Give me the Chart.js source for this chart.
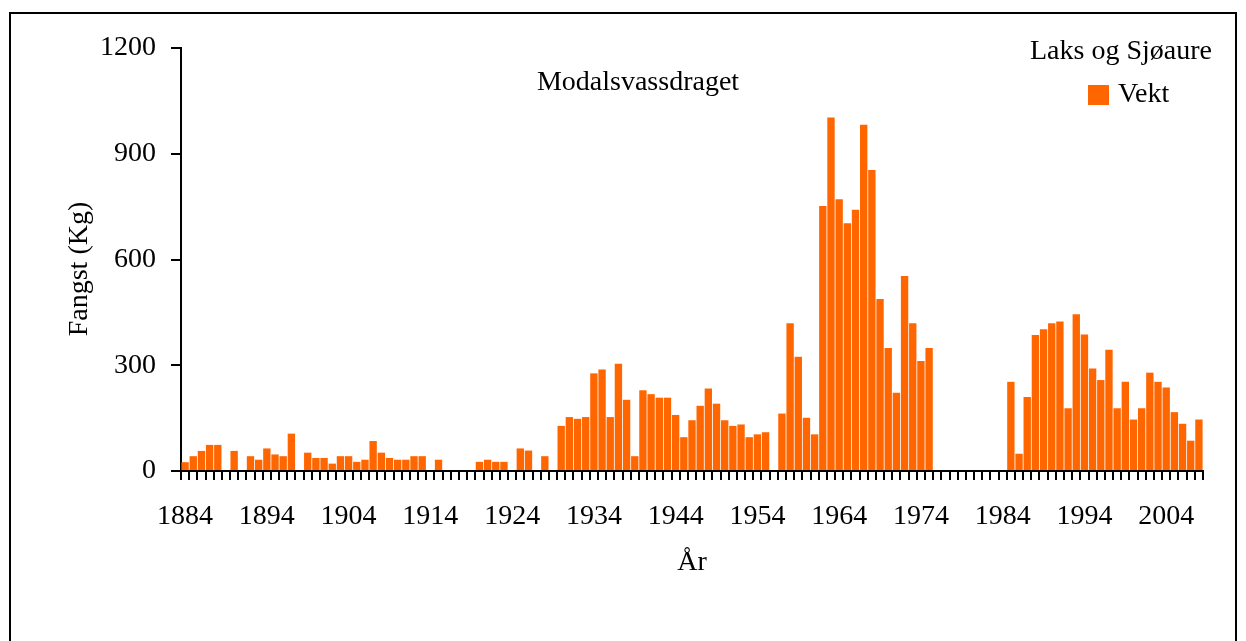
<!DOCTYPE html>
<html><head><meta charset="utf-8">
<script src="https://cdn.jsdelivr.net/npm/chart.js@4.4.1/dist/chart.umd.min.js"></script>
<style>
html,body{margin:0;padding:0;background:#fff;overflow:hidden;width:1246px;height:641px;}
#wrap{position:relative;width:1246px;height:641px;}
canvas{position:absolute;left:0;top:0;}
.frame{position:absolute;left:9px;top:12px;width:1224px;height:700px;border:2px solid #000;pointer-events:none;}
.txt{position:absolute;font-family:'Liberation Serif','Times New Roman',serif;font-size:28px;line-height:28px;color:#000;white-space:nowrap;}
</style></head>
<body><div id="wrap">
<canvas id="c" width="1246" height="641"></canvas>
<div class="frame"></div>
<div class="txt" id="title" style="left:638px;top:67px;transform:translateX(-50%)"></div>
<div class="txt" id="legTitle" style="left:1121px;top:36px;transform:translateX(-50%)"></div>
<div id="swatch" style="position:absolute;left:1088px;top:85px;width:21px;height:20px;background:#ff6600;"></div>
<div class="txt" id="legItem" style="left:1118px;top:79px;"></div>
<div class="txt" id="yTitle" style="left:78px;top:269px;transform:translate(-50%,-50%) rotate(-90deg)"></div>
</div>
<script>
const chartTitle = 'Modalsvassdraget';
const legendTitle = 'Laks og Sjøaure';
const seriesName = 'Vekt';
const xTitle = 'År';
const yTitle = 'Fangst (Kg)';

const years = ['1884','1885','1886','1887','1888','1889','1890','1891','1892','1893',
 '1894','1895','1896','1897','1898','1899','1900','1901','1902','1903',
 '1904','1905','1906','1907','1908','1909','1910','1911','1912','1913',
 '1914','1915','1916','1917','1918','1919','1920','1921','1922','1923',
 '1924','1925','1926','1927','1928','1929','1930','1931','1932','1933',
 '1934','1935','1936','1937','1938','1939','1940','1941','1942','1943',
 '1944','1945','1946','1947','1948','1949','1950','1951','1952','1953',
 '1954','1955','1956','1957','1958','1959','1960','1961','1962','1963',
 '1964','1965','1966','1967','1968','1969','1970','1971','1972','1973',
 '1974','1975','1976','1977','1978','1979','1980','1981','1982','1983',
 '1984','1985','1986','1987','1988','1989','1990','1991','1992','1993',
 '1994','1995','1996','1997','1998','1999','2000','2001','2002','2003',
 '2004','2005','2006','2007','2008'];

const vekt = [25,42,57,74,74,null,57,null,42,32,
 64,47,42,106,null,52,37,37,21,42,
 42,26,32,85,52,37,32,32,42,42,
 null,32,null,null,null,null,26,32,26,26,
 null,64,58,null,42,null,128,153,148,153,
 277,288,153,304,202,42,229,218,208,208,
 159,96,144,185,234,191,144,128,132,96,
 104,110,null,163,419,324,151,104,752,1003,
 771,703,741,982,854,488,349,222,553,419,
 312,349,null,null,null,null,null,null,null,null,
 null,253,49,210,386,402,419,424,178,445,
 387,291,258,344,178,253,146,178,279,253,
 237,167,134,86,146];

const tickLabels = ['1884','1894','1904','1914','1924','1934','1944','1954','1964','1974','1984','1994','2004'];
const yMin = 0, yMax = 1200, yStep = 300;

document.getElementById('title').textContent = chartTitle;
document.getElementById('legTitle').textContent = legendTitle;
document.getElementById('legItem').textContent = seriesName;
document.getElementById('yTitle').textContent = yTitle;

const FONT = "'Liberation Serif','Times New Roman',serif";
Chart.defaults.font.family = FONT;
Chart.defaults.font.size = 28;
Chart.defaults.color = '#000';

new Chart(document.getElementById('c'), {
  type: 'bar',
  data: {
    labels: years,
    datasets: [{
      label: seriesName,
      data: vekt,
      backgroundColor: '#ff6600',
      borderWidth: 0,
      barPercentage: 0.9,
      categoryPercentage: 1.0
    }]
  },
  options: {
    responsive: false,
    animation: false,
    devicePixelRatio: 1,
    layout: { padding: { top: 48, right: 43, left: 0, bottom: 0 } },
    plugins: { legend: { display: false }, title: { display: false }, tooltip: { enabled: false } },
    scales: {
      x: {
        offset: true,
        grid: { display: true, drawOnChartArea: false, drawTicks: true, tickLength: 9, color: '#000', lineWidth: 2, offset: true },
        border: { display: true, color: '#000', width: 2 },
        ticks: {
          autoSkip: false, maxRotation: 0, minRotation: 0, padding: 20,
          callback: function (v) { const l = this.getLabelForValue(v); return tickLabels.includes(l) ? l : ''; }
        },
        title: { display: true, text: xTitle, padding: { top: 0, bottom: 62 } },
        afterFit: s => { s.height = 170; }
      },
      y: {
        min: yMin, max: yMax,
        ticks: { stepSize: yStep, padding: 15, callback: v => String(v) },
        grid: { drawOnChartArea: false, drawTicks: true, tickLength: 10, color: '#000', lineWidth: 2 },
        border: { display: true, color: '#000', width: 2 },
        title: { display: false },
        afterFit: s => { s.width = 181; }
      }
    }
  }
});
</script>
</body></html>
